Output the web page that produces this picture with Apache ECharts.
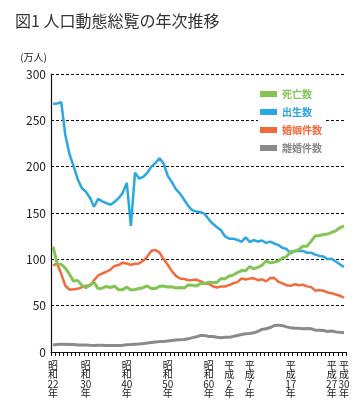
<!DOCTYPE html>
<html><head><meta charset="utf-8">
<script src="https://cdn.jsdelivr.net/npm/echarts@6/dist/echarts.min.js"></script>
<style>html,body{margin:0;padding:0;background:#fff}#c{width:363px;height:405px}</style>
</head><body><div id="c"></div>
<script>
const years = [];
for (let y = 1947; y <= 2018; y++) years.push(String(y));

const births = [267.9,268.2,269.7,233.8,213.8,200.5,186.8,177.0,173.1,166.5,156.7,165.3,162.6,160.6,158.9,161.9,166.0,171.7,182.4,136.1,193.6,187.2,188.9,193.4,200.1,203.9,209.2,203.0,190.1,183.3,175.5,170.9,164.3,157.7,152.9,151.5,150.9,149.0,143.2,138.3,134.7,131.4,124.7,122.2,122.3,120.9,118.8,123.8,118.7,120.7,119.2,120.3,117.8,119.1,117.1,115.4,112.4,111.1,106.3,109.3,109.0,109.1,107.0,107.1,105.1,103.7,103.0,100.4,100.6,97.7,94.6,91.8];
const deaths = [113.8,95.1,94.5,90.5,83.9,76.5,77.3,72.1,69.4,72.4,75.2,68.4,68.9,70.7,69.6,71.0,67.1,67.3,70.0,67.0,67.5,68.6,69.4,71.3,68.5,68.4,70.9,71.1,70.2,70.3,69.0,69.6,69.0,72.3,72.0,71.2,74.0,74.0,75.2,75.1,75.1,79.3,78.9,82.0,83.0,85.7,87.9,87.6,92.2,89.6,91.3,93.6,98.2,96.2,97.0,98.2,101.5,102.9,108.4,108.4,110.8,114.2,114.2,119.7,125.3,125.6,126.8,127.3,129.0,130.8,134.0,136.2];
const marriages = [93.4,95.4,84.3,71.5,67.2,67.6,68.2,69.8,71.5,71.6,77.4,82.6,84.7,86.6,89.0,92.9,93.8,96.4,95.5,94.0,95.3,95.6,98.4,102.9,109.2,110.0,107.2,100.1,94.2,87.2,82.1,79.3,78.9,77.5,77.7,78.2,76.3,74.0,73.6,71.0,69.6,70.8,70.8,72.2,74.2,75.4,79.3,78.2,79.2,79.5,77.5,78.5,76.2,79.8,80.0,75.7,74.0,72.0,71.4,73.1,72.0,72.6,70.8,70.0,66.2,66.9,66.1,64.3,63.5,62.1,60.7,58.6];
const divorces = [7.9,8.0,8.3,8.4,8.2,8.0,7.5,7.6,7.5,7.2,7.1,7.4,7.2,7.0,7.0,7.1,7.0,7.3,7.7,8.0,8.4,8.7,9.1,9.6,10.3,10.8,11.2,11.4,11.9,12.4,12.9,13.2,13.5,14.2,15.5,16.4,17.9,17.9,16.7,16.7,15.9,15.4,15.8,15.8,16.9,17.9,18.8,19.6,19.9,20.7,22.3,24.4,25.1,26.4,28.6,29.0,28.4,27.1,26.2,25.7,25.5,25.1,25.3,25.1,23.6,23.5,23.1,22.2,22.6,21.7,21.2,20.8];

const labelYears = ['1947','1955','1965','1975','1985','1990','1995','2005','2015','2018'];
const labelTexts = ['昭\n和\n22\n年','昭\n和\n30\n年','昭\n和\n40\n年','昭\n和\n50\n年','昭\n和\n60\n年','平\n成\n2\n年','平\n成\n7\n年','平\n成\n17\n年','平\n成\n27\n年','平\n成\n30\n年'];
const yTicks = [0, 50, 100, 150, 200, 250, 300];

const names = ['死亡数','出生数','婚姻件数','離婚件数'];
const colors = ['#84c454','#2aa6e0','#f26a3c','#8a8a8a'];

const chart = echarts.init(document.getElementById('c'), null, {renderer:'canvas'});
const font = '"Noto Sans CJK JP", "Noto Sans", sans-serif';
chart.setOption({
  animation: false,
  backgroundColor: '#fff',
  textStyle: {fontFamily: font},
  title: {
    text: '図1 人口動態総覧の年次推移', left: 10, top: 8,
    textStyle: {fontSize: 16, fontWeight: 'normal', color: '#333', fontFamily: font}
  },
  legend: {
    orient: 'vertical', left: 258, top: 85,
    icon: 'rect', itemWidth: 17, itemHeight: 6, itemGap: 6,
    backgroundColor: '#fff', padding: [3, 4, 3, 2],
    textStyle: {fontSize: 10, fontWeight: 'bold', lineHeight: 12},
    data: names.map((n, i) => ({name: n, textStyle: {color: colors[i]}}))
  },
  grid: {left: 51, right: 17, top: 74, bottom: 53, containLabel: false},
  xAxis: {
    type: 'category', data: years, boundaryGap: true,
    axisLine: {lineStyle: {color: '#111', width: 1}},
    axisTick: {show: true, interval: 0, length: 4, lineStyle: {color: '#111'}},
    axisLabel: {
      interval: (idx, val) => labelYears.indexOf(val) >= 0,
      formatter: (val) => { const k = labelYears.indexOf(val); return k >= 0 ? labelTexts[k] : ''; },
      fontSize: 10, lineHeight: 9.5, color: '#222', margin: 8, align: 'center'
    }
  },
  yAxis: {
    type: 'value', min: yTicks[0], max: yTicks[yTicks.length-1], interval: 50,
    name: '(万人)', nameLocation: 'end', nameGap: 12,
    nameTextStyle: {fontSize: 10, color: '#222', align: 'right', padding: [0, 4, 0, 0]},
    axisLine: {show: true, lineStyle: {color: '#111', width: 1.2}},
    axisTick: {show: false},
    axisLabel: {fontSize: 12, color: '#222', margin: 5},
    splitLine: {lineStyle: {color: '#111', type: [3, 2], width: 1}}
  },
  series: [
    {name: names[3], type: 'line', data: divorces, color: colors[3], showSymbol: false, lineStyle: {width: 3, color: colors[3]}, z: 2},
    {name: names[2], type: 'line', data: marriages, color: colors[2], showSymbol: false, lineStyle: {width: 2.5, color: colors[2]}, z: 3},
    {name: names[1], type: 'line', data: births, color: colors[1], showSymbol: false, lineStyle: {width: 2.5, color: colors[1]}, z: 4},
    {name: names[0], type: 'line', data: deaths, color: colors[0], showSymbol: false, lineStyle: {width: 3, color: colors[0]}, z: 5}
  ]
});
</script></body></html>
